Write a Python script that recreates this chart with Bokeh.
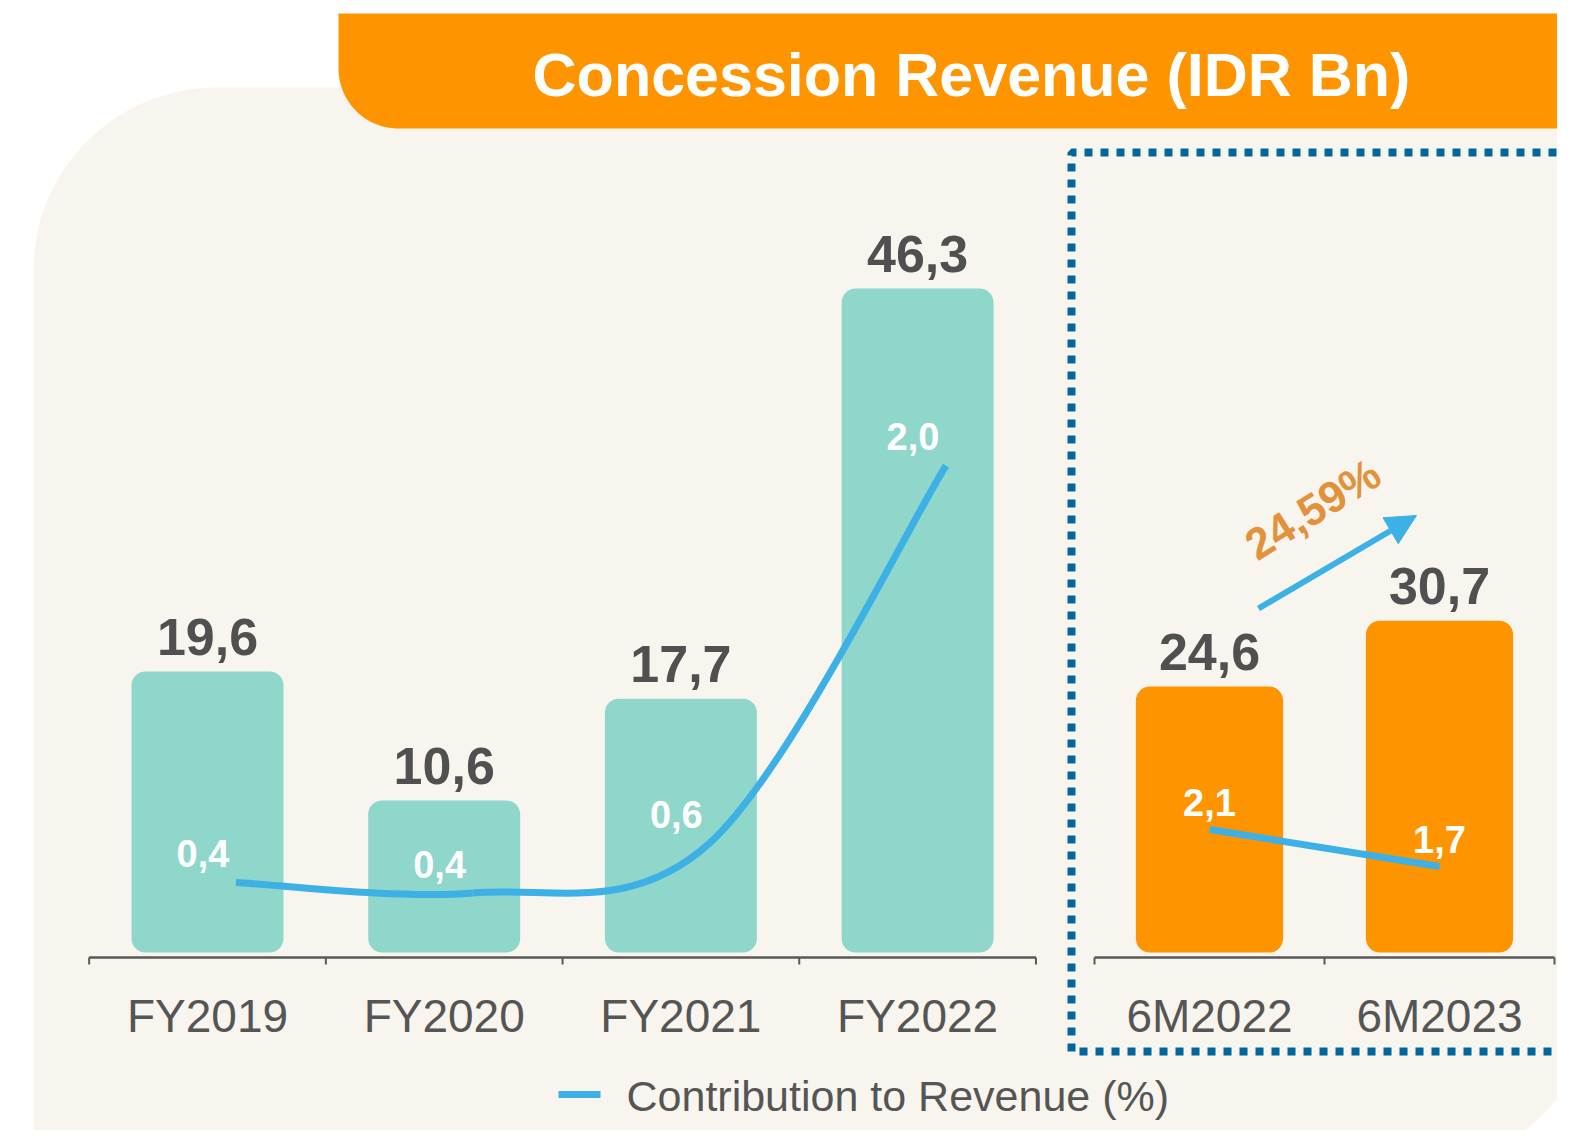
import numpy as np
from bokeh.plotting import figure
from bokeh.models import Range1d, ColumnDataSource, Arrow, NormalHead
from bokeh.core.properties import value
from bokeh.embed import file_html
from bokeh.resources import INLINE

# ---------------- data ----------------
fy_categories = ["FY2019", "FY2020", "FY2021", "FY2022"]
fy_revenue = [19.6, 10.6, 17.7, 46.3]
fy_revenue_labels = ["19,6", "10,6", "17,7", "46,3"]
fy_contribution = [0.40, 0.36, 0.55, 2.00]
fy_contribution_labels = ["0,4", "0,4", "0,6", "2,0"]

h_categories = ["6M2022", "6M2023"]
h_revenue = [24.6, 30.7]
h_revenue_labels = ["24,6", "30,7"]
h_contribution = [2.1, 1.7]
h_contribution_labels = ["2,1", "1,7"]

growth_label = "24,59%"
title_text = "Concession Revenue (IDR Bn)"
legend_label = "Contribution to Revenue (%)"

# ---------------- layout / style ----------------
W, H = 1557, 1130
OFF = 0
FONT = value("Liberation Sans")
TEAL = "#8FD6CB"
ORANGE = "#FE9500"
BLUE = "#3DB0E6"
DARK = "#505050"
AXIS = "#595959"
PANEL = "#F8F5EF"
DOT = "#00669C"
GROWTH = "#E3913A"
BASE_FIX = 0.34   # correction of the rendered alphabetic baseline (em)


def bfix(size):
    return -BASE_FIX * size


def x_range_for(a, b):
    # value -> page px: a + b*v
    return Range1d((OFF - a) / b, (OFF + W - a) / b)


def y_range_for(a, b):
    # value -> page px: a - b*v  (page y grows downward)
    return Range1d((a - OFF - H) / b, (a - OFF) / b)


p = figure(width=W, height=H, output_backend="svg", toolbar_location=None,
           x_range=Range1d(OFF, OFF + W), y_range=Range1d(OFF + H, OFF),
           x_axis_location=None, y_axis_location=None, min_border=0)
p.grid.visible = False
p.outline_line_color = None
p.background_fill_color = "white"
p.border_fill_color = "white"

p.extra_x_ranges = {"L": x_range_for(207, 236.7), "R": x_range_for(1209, 230)}
p.extra_y_ranges = {
    "vL": y_range_for(952, 14.34),
    "vR": y_range_for(952, 10.81),
    "pL": y_range_for(986.3, 260.6),
    "pR": y_range_for(1023.25, 92.5),
}

# ---------------- background panel ----------------
def arc(cx, cy, r, a0, a1, n=40):
    t = np.radians(np.linspace(a0, a1, n))
    return list(cx + r * np.cos(t)), list(cy + r * np.sin(t))

ax1, ay1 = arc(216, 270, 183, 180, 270)
ax2, ay2 = arc(1360, 930, 259, 0, 90)
px_ = [33] + ax1 + [1619] + ax2 + [33]
py_ = [1300] + ay1 + [87] + ay2 + [1189]
p.patch(px_, py_, fill_color=PANEL, line_color=None)

# ---------------- banner ----------------
bx, by = arc(398, 68, 60, 90, 180)
p.patch([338, 1640, 1640] + bx + [338], [13, 13, 128] + by + [13],
        fill_color=ORANGE, line_color=None)
p.text(x=[971], y=[95], text=[title_text], y_offset=bfix(61),
       text_font=FONT, text_font_size="61px",
       text_font_style="bold", text_color="white", text_align="center",
       text_baseline="alphabetic")

# ---------------- dotted box ----------------
p.line([1700, 1071, 1071, 1700], [152, 152, 1051, 1051], line_color=DOT,
       line_width=8, line_dash="8 8", line_cap="butt")

# ---------------- bars ----------------
fy_x = list(range(len(fy_categories)))
h_x = list(range(len(h_categories)))

p.vbar(x=fy_x, top=fy_revenue, bottom=0, width=0.642, fill_color=TEAL,
       line_color=None, border_radius=14, x_range_name="L", y_range_name="vL")
p.vbar(x=h_x, top=h_revenue, bottom=0, width=0.64, fill_color=ORANGE,
       line_color=None, border_radius=14, x_range_name="R", y_range_name="vR")

# bar value labels
VAL_SIZE = 52
p.text(x=fy_x, y=fy_revenue, text=fy_revenue_labels, y_offset=-17 + bfix(VAL_SIZE),
       x_range_name="L", y_range_name="vL", text_font=FONT,
       text_font_size=f"{VAL_SIZE}px",
       text_font_style="bold", text_color=DARK, text_align="center",
       text_baseline="alphabetic")
p.text(x=h_x, y=h_revenue, text=h_revenue_labels, y_offset=-17 + bfix(VAL_SIZE),
       x_range_name="R", y_range_name="vR", text_font=FONT,
       text_font_size=f"{VAL_SIZE}px",
       text_font_style="bold", text_color=DARK, text_align="center",
       text_baseline="alphabetic")

# ---------------- category axes ----------------
def draw_axis(n, rng):
    edges = [i - 0.5 for i in range(n + 1)]
    p.segment(x0=[-0.5], y0=[957], x1=[n - 0.5], y1=[957], line_color=AXIS,
              line_width=2.5, x_range_name=rng)
    p.segment(x0=edges, y0=[957] * len(edges), x1=edges, y1=[964] * len(edges),
              line_color=AXIS, line_width=2, x_range_name=rng)

draw_axis(len(fy_categories), "L")
draw_axis(len(h_categories), "R")

CAT_SIZE = 46
p.text(x=fy_x, y=[1031] * len(fy_x), text=fy_categories, x_range_name="L",
       y_offset=bfix(CAT_SIZE),
       text_font=FONT, text_font_size=f"{CAT_SIZE}px", text_color="#555555",
       text_align="center", text_baseline="alphabetic")
p.text(x=h_x, y=[1031] * len(h_x), text=h_categories, x_range_name="R",
       y_offset=bfix(CAT_SIZE),
       text_font=FONT, text_font_size=f"{CAT_SIZE}px", text_color="#555555",
       text_align="center", text_baseline="alphabetic")

# ---------------- contribution lines ----------------
line_shift = 0.12
lx = [i + line_shift for i in fy_x]


def catmull_bezier(xs, ys):
    pts = np.column_stack([xs, ys]).astype(float)
    n = len(pts)
    d = dict(x0=[], y0=[], x1=[], y1=[], cx0=[], cy0=[], cx1=[], cy1=[])
    for i in range(n - 1):
        pp = pts[max(i - 1, 0)]
        p0 = pts[i]
        p1 = pts[i + 1]
        pn = pts[min(i + 2, n - 1)]
        c0 = p0 + (p1 - pp) / 6.0
        c1 = p1 - (pn - p0) / 6.0
        d["x0"].append(p0[0]); d["y0"].append(p0[1])
        d["x1"].append(p1[0]); d["y1"].append(p1[1])
        d["cx0"].append(c0[0]); d["cy0"].append(c0[1])
        d["cx1"].append(c1[0]); d["cy1"].append(c1[1])
    return ColumnDataSource(d)


p.bezier(x0="x0", y0="y0", x1="x1", y1="y1", cx0="cx0", cy0="cy0",
         cx1="cx1", cy1="cy1", source=catmull_bezier(lx, fy_contribution),
         line_color=BLUE, line_width=7, x_range_name="L", y_range_name="pL")
p.line(x=h_x, y=h_contribution, line_color=BLUE, line_width=7,
       x_range_name="R", y_range_name="pR")

PCT_SIZE = 38
p.text(x=lx, y=fy_contribution, text=fy_contribution_labels, x_offset=-33,
       y_offset=-16 + bfix(PCT_SIZE), x_range_name="L", y_range_name="pL",
       text_font=FONT, text_font_size=f"{PCT_SIZE}px", text_font_style="bold",
       text_color="white", text_align="center", text_baseline="alphabetic")
p.text(x=h_x, y=h_contribution, text=h_contribution_labels, x_offset=0,
       y_offset=-14 + bfix(PCT_SIZE), x_range_name="R", y_range_name="pR",
       text_font=FONT, text_font_size=f"{PCT_SIZE}px", text_font_style="bold",
       text_color="white", text_align="center", text_baseline="alphabetic")

# ---------------- growth arrow ----------------
arrow = Arrow(end=NormalHead(size=30, fill_color=BLUE, line_color=BLUE, line_width=1),
              x_start=1258, y_start=608, x_end=1416, y_end=515,
              line_color=BLUE, line_width=6)
p.add_layout(arrow)
GROW_SIZE = 44
ang = np.radians(32)
shift = BASE_FIX * GROW_SIZE
p.text(x=[1320 - shift * np.sin(ang)], y=[521 - shift * np.cos(ang)],
       text=[growth_label], angle=ang,
       text_font=FONT, text_font_size=f"{GROW_SIZE}px", text_font_style="bold",
       text_color=GROWTH, text_align="center", text_baseline="alphabetic")

# ---------------- legend ----------------
LEG_SIZE = 43
p.line([558, 600], [1094, 1094], line_color=BLUE, line_width=7)
p.text(x=[626], y=[1110], text=[legend_label], y_offset=bfix(LEG_SIZE),
       text_font=FONT, text_font_size=f"{LEG_SIZE}px", text_color="#555555",
       text_align="left", text_baseline="alphabetic")

open("out.html", "w").write(file_html(p, INLINE))
